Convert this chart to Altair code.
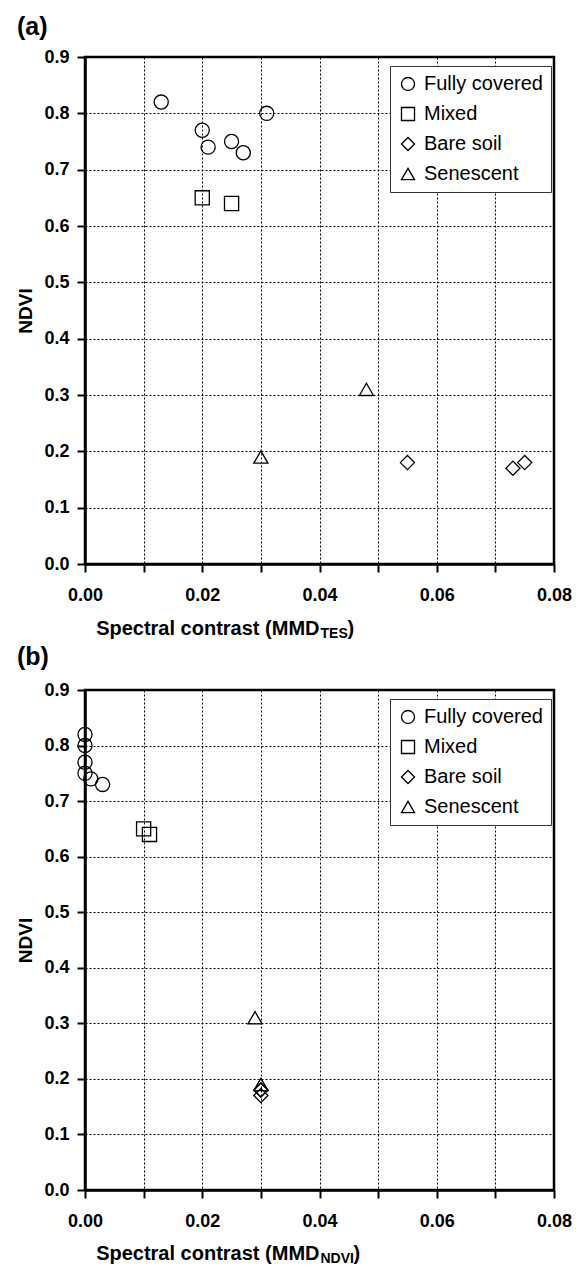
import altair as alt
import pandas as pd

FONT = "Liberation Sans"

categories = ["Fully covered", "Mixed", "Bare soil", "Senescent"]
shapes = ["circle", "square", "diamond", "triangle-up"]

# Panel (a): MMD_TES
a_full_x = [0.013, 0.031, 0.020, 0.021, 0.025, 0.027]
a_full_y = [0.82, 0.80, 0.77, 0.74, 0.75, 0.73]
a_mixed_x = [0.020, 0.025]
a_mixed_y = [0.65, 0.64]
a_bare_x = [0.055, 0.073, 0.075]
a_bare_y = [0.18, 0.17, 0.18]
a_sen_x = [0.030, 0.048]
a_sen_y = [0.19, 0.31]

# Panel (b): MMD_NDVI
b_full_x = [0.000, 0.000, 0.000, 0.000, 0.001, 0.003]
b_full_y = [0.82, 0.80, 0.77, 0.75, 0.74, 0.73]
b_mixed_x = [0.010, 0.011]
b_mixed_y = [0.65, 0.64]
b_bare_x = [0.030, 0.030, 0.030]
b_bare_y = [0.18, 0.17, 0.18]
b_sen_x = [0.029, 0.030]
b_sen_y = [0.31, 0.19]

x_ticks = [0.00, 0.01, 0.02, 0.03, 0.04, 0.05, 0.06, 0.07, 0.08]
y_ticks = [0.0, 0.1, 0.2, 0.3, 0.4, 0.5, 0.6, 0.7, 0.8, 0.9]

W = 469


def make_df(groups):
    rows = []
    for cat, xs, ys in groups:
        for xv, yv in zip(xs, ys):
            rows.append({"cat": cat, "x": xv, "y": yv})
    return pd.DataFrame(rows)


def panel(df, label, sub, sub_w, H, title_dy, title_offset):
    pts = alt.Chart(df).mark_point(
        filled=False, size=200, strokeWidth=1.3, color="black", opacity=1
    ).encode(
        x=alt.X("x:Q",
                scale=alt.Scale(domain=[0, 0.08], nice=False, zero=False),
                axis=alt.Axis(values=x_ticks, title=None, labelFlush=False,
                              labelExpr="round(datum.value*100) % 2 == 0 ? format(datum.value, '.2f') : ''")),
        y=alt.Y("y:Q",
                scale=alt.Scale(domain=[0, 0.9], nice=False),
                axis=alt.Axis(values=y_ticks, format=".1f", title="NDVI", labelFlush=False)),
        shape=alt.Shape("cat:N",
                        scale=alt.Scale(domain=categories, range=shapes),
                        legend=alt.Legend(title=None, orient="none",
                                          legendX=W - 4 - 160, legendY=9,
                                          fillColor="white", strokeColor="#333333",
                                          padding=8, rowPadding=10, labelOffset=6,
                                          labelFont=FONT, labelFontSize=20, labelColor="black",
                                          symbolSize=170, symbolStrokeWidth=1.3,
                                          symbolStrokeColor="black", symbolFillColor="transparent")),
    )
    main = alt.Chart(pd.DataFrame({"t": ["Spectral contrast (MMD"]})).mark_text(
        align="right", baseline="alphabetic", font=FONT, fontSize=20,
        fontWeight="bold", color="black"
    ).encode(x=alt.value(W / 2), y=alt.value(H + title_dy), text="t:N")
    subt = alt.Chart(pd.DataFrame({"t": [sub]})).mark_text(
        align="left", baseline="alphabetic", font=FONT, fontSize=14,
        fontWeight="bold", color="black"
    ).encode(x=alt.value(W / 2 + 1), y=alt.value(H + title_dy + 3), text="t:N")
    close = alt.Chart(pd.DataFrame({"t": [")"]})).mark_text(
        align="left", baseline="alphabetic", font=FONT, fontSize=20,
        fontWeight="bold", color="black"
    ).encode(x=alt.value(W / 2 + 1 + sub_w), y=alt.value(H + title_dy), text="t:N")
    return alt.layer(pts, main, subt, close).properties(
        width=W, height=H,
        title=alt.TitleParams(label, anchor="start", frame="bounds", offset=title_offset,
                              font=FONT, fontSize=25, fontWeight="bold", color="black"),
    )


df_a = make_df([("Fully covered", a_full_x, a_full_y), ("Mixed", a_mixed_x, a_mixed_y),
                ("Bare soil", a_bare_x, a_bare_y), ("Senescent", a_sen_x, a_sen_y)])
df_b = make_df([("Fully covered", b_full_x, b_full_y), ("Mixed", b_mixed_x, b_mixed_y),
                ("Bare soil", b_bare_x, b_bare_y), ("Senescent", b_sen_x, b_sen_y)])

pa = panel(df_a, "(a)", "TES", 27, 507, 71, 8)
pb = panel(df_b, "(b)", "NDVI", 33, 500, 70, 11)

chart = alt.vconcat(pa, pb, spacing=0).resolve_scale(shape="independent").resolve_legend(
    shape="independent"
).properties(
    padding={"left": 7, "top": 5, "right": 0, "bottom": 6}
).configure_axis(
    labelFont=FONT, labelFontSize=18, labelFontWeight="bold", labelColor="black",
    titleFont=FONT, titleFontSize=19, titleFontWeight="bold", titleColor="black",
    domainColor="black", domainWidth=2.5, tickColor="black", tickWidth=2, tickSize=8,
    gridColor="black", gridDash=[2, 2], gridWidth=1, gridOpacity=1,
).configure_axisX(labelPadding=14).configure_axisY(labelPadding=8, titlePadding=8).configure_view(
    stroke="black", strokeWidth=2.5
)

chart.save("out.html", embed_options={"renderer": "svg", "actions": False})
